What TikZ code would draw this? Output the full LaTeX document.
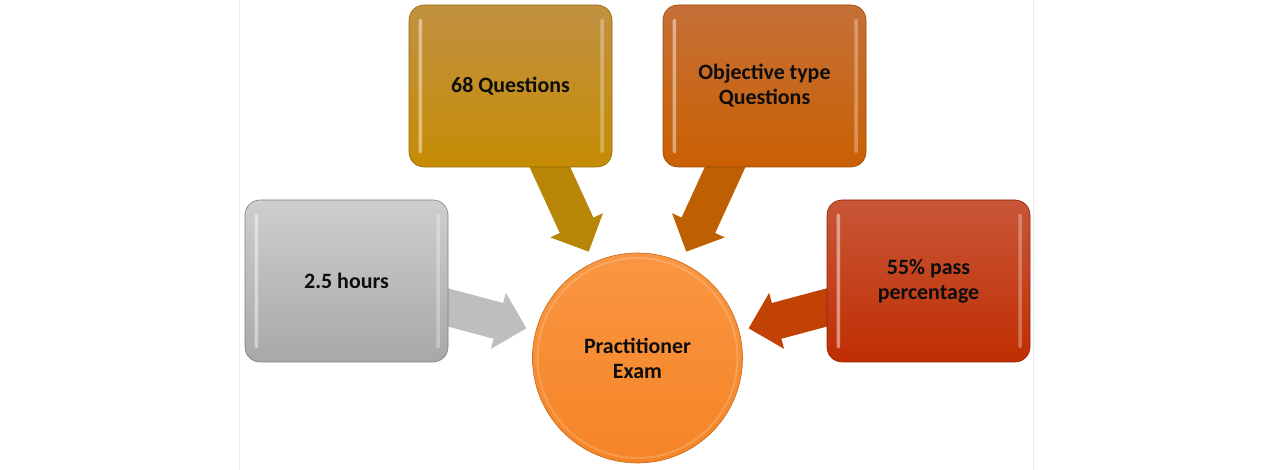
\documentclass[tikz,border=0pt]{standalone}
\usepackage{fontspec}
\setmainfont{Carlito}
\usetikzlibrary{calc}
\pgfdeclarelayer{background}
\pgfsetlayers{background,main}
\definecolor{goldT}{RGB}{193,145,66}
\definecolor{goldB}{RGB}{198,140,4}
\definecolor{goldA}{RGB}{184,134,6}
\definecolor{rustT}{RGB}{197,112,56}
\definecolor{rustB}{RGB}{202,96,2}
\definecolor{rustA}{RGB}{190,95,2}
\definecolor{grayT}{RGB}{206,206,206}
\definecolor{grayB}{RGB}{168,168,168}
\definecolor{grayA}{RGB}{190,190,190}
\definecolor{redT}{RGB}{200,86,56}
\definecolor{redB}{RGB}{192,46,2}
\definecolor{redA}{RGB}{194,66,6}
\definecolor{examT}{RGB}{250,150,66}
\definecolor{examB}{RGB}{245,132,38}
\definecolor{edgeline}{RGB}{236,236,236}
\tikzset{
  infobox/.style={rounded corners=15bp, minimum width=203bp, minimum height=162bp,
    inner sep=0pt, align=center, text=black!95,
    font=\bfseries\fontsize{22}{25}\selectfont, line width=0.6bp},
  examcircle/.style={circle, minimum size=210bp, inner sep=0pt, align=center,
    text=black!95, font=\bfseries\fontsize{22}{25}\selectfont,
    top color=examT, bottom color=examB, draw=examB!80!black, line width=0.6bp},
  slideedge/.style={draw=edgeline, line width=1bp},
  shine/.style={fill=white, opacity=0.45, rounded corners=1.5bp}
}
\newcommand{\blockarrow}[3]{%
  \coordinate (ba-s) at ($(#1)!-30bp!(#2)$);
  \coordinate (ba-h) at ($(#2)!29bp!(#1)$);
  \fill[#3] ($(ba-s)!18.5bp!90:(#2)$) -- ($(ba-h)!18.5bp!90:(#2)$)
    -- ($(ba-h)!29bp!90:(#2)$) -- (#2) -- ($(ba-h)!29bp!-90:(#2)$)
    -- ($(ba-h)!18.5bp!-90:(#2)$) -- ($(ba-s)!18.5bp!-90:(#2)$) -- cycle;}
\newcommand{\bevel}[1]{%
  \fill[shine] ($(#1.north west)+(10,-14)$) rectangle ($(#1.south west)+(13.5,14)$);
  \fill[shine, opacity=0.3] ($(#1.north east)+(-12,-14)$) rectangle ($(#1.south east)+(-8.5,14)$);}
\begin{document}
\begin{tikzpicture}[x=1bp,y=1bp]
\useasboundingbox (0,0) rectangle (1272,-470);
\draw[slideedge] (239.5,0) -- (239.5,-470);
\draw[slideedge] (1033.5,0) -- (1033.5,-470);

\node[infobox, top color=goldT, bottom color=goldB, draw=goldB!75!black] (q68) at (510.5,-86) {68 Questions};
\node[infobox, top color=rustT, bottom color=rustB, draw=rustB!75!black] (obj) at (764.5,-86) {Objective type\\Questions};
\node[infobox, top color=grayT, bottom color=grayB, draw=grayB!75!black] (hrs) at (346.5,-281) {2.5 hours};
\node[infobox, top color=redT, bottom color=redB, draw=redB!75!black] (pass) at (928.5,-281) {55\% pass\\percentage};
\node[examcircle] (exam) at (637.5,-358) {Practitioner\\Exam};

\bevel{q68}\bevel{obj}\bevel{hrs}\bevel{pass}
\draw[white, opacity=0.18, line width=2bp] (exam.center) circle (100);

\coordinate (s1) at ($(q68.south)+(39.5,0)$);
\coordinate (s2) at ($(obj.south)+(-39.5,0)$);
\coordinate (s3) at ($(hrs.east)+(0,-26.5)$);
\coordinate (s4) at ($(pass.west)+(0,-26.5)$);
\coordinate (t1) at ($(exam.center)!117bp!(s1)$);
\coordinate (t2) at ($(exam.center)!117bp!(s2)$);
\coordinate (t3) at ($(exam.center)!115bp!(s3)$);
\coordinate (t4) at ($(exam.center)!115bp!(s4)$);
\begin{pgfonlayer}{background}
\blockarrow{s1}{t1}{goldA}
\blockarrow{s2}{t2}{rustA}
\blockarrow{s3}{t3}{grayA}
\blockarrow{s4}{t4}{redA}
\end{pgfonlayer}
\end{tikzpicture}
\end{document}
